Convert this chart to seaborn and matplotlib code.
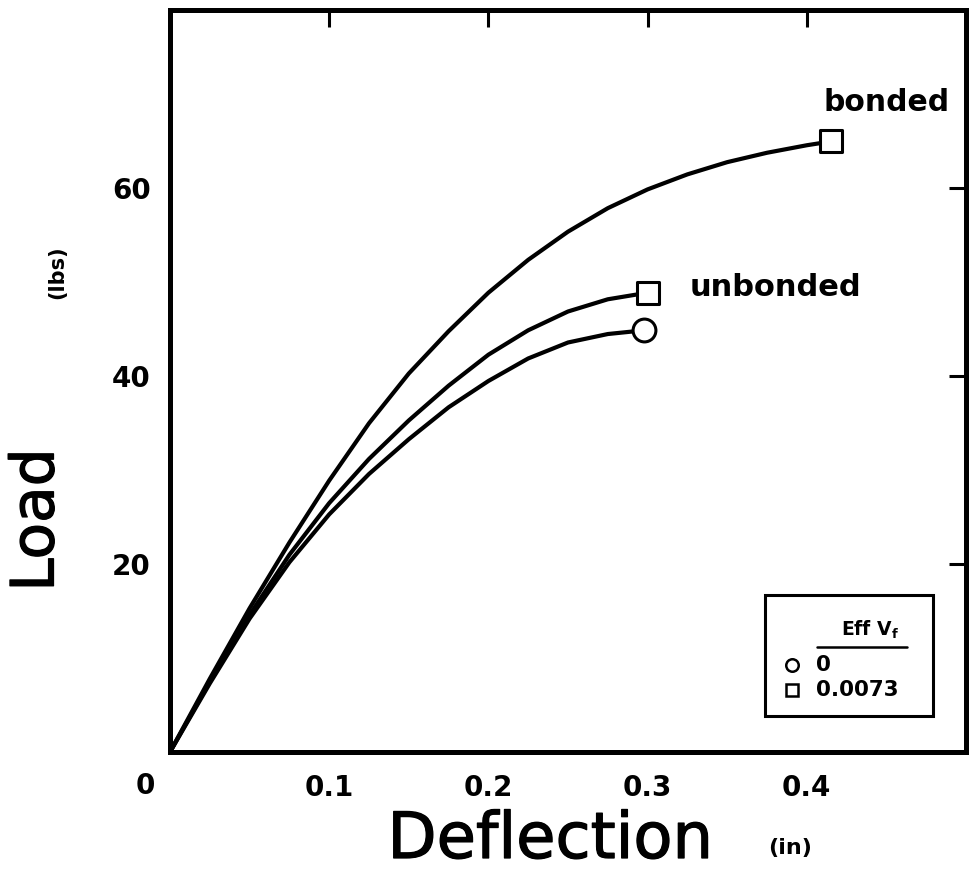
import matplotlib
matplotlib.use("Agg")
import matplotlib.pyplot as plt
import matplotlib.patheffects as pe
import pandas as pd
import seaborn as sns
from matplotlib.patches import Rectangle
from matplotlib.lines import Line2D

# Load-deflection curves (deflection in inches, load in lbs)
bonded_defl = [0.0, 0.025, 0.05, 0.075, 0.1, 0.125, 0.15, 0.175, 0.2, 0.225,
               0.25, 0.275, 0.3, 0.325, 0.35, 0.375, 0.4, 0.415]
bonded_load = [0.0, 7.8, 15.3, 22.3, 28.9, 35.0, 40.3, 44.8, 48.9, 52.4,
               55.4, 57.9, 59.9, 61.5, 62.8, 63.8, 64.6, 65.0]

unbonded_defl = [0.0, 0.025, 0.05, 0.075, 0.1, 0.125, 0.15, 0.175, 0.2, 0.225,
                 0.25, 0.275, 0.3]
unbonded_load = [0.0, 7.5, 14.6, 21.0, 26.5, 31.2, 35.3, 39.0, 42.3, 44.9,
                 46.9, 48.2, 48.9]

plain_defl = [0.0, 0.025, 0.05, 0.075, 0.1, 0.125, 0.15, 0.175, 0.2, 0.225,
              0.25, 0.275, 0.298]
plain_load = [0.0, 7.3, 14.2, 20.2, 25.3, 29.6, 33.3, 36.7, 39.5, 41.9,
              43.6, 44.5, 44.9]

x_ticks = [0.1, 0.2, 0.3, 0.4]
y_ticks = [20, 40, 60]
legend_title = "Eff V$_\\mathbf{f}$"
legend_labels = ["0", "0.0073"]

frames = []
for name, xs, ys in [("bonded", bonded_defl, bonded_load),
                     ("unbonded", unbonded_defl, unbonded_load),
                     ("plain", plain_defl, plain_load)]:
    frames.append(pd.DataFrame({"series": name, "defl": xs, "load": ys}))
df = pd.concat(frames, ignore_index=True)

ends = pd.DataFrame({
    "series": ["bonded", "unbonded", "plain"],
    "defl": [bonded_defl[-1], unbonded_defl[-1], plain_defl[-1]],
    "load": [bonded_load[-1], unbonded_load[-1], plain_load[-1]],
    "marker": ["s", "s", "o"],
})

sns.set_theme(style="white", rc={"text.color": "black",
                                 "axes.labelcolor": "black",
                                 "xtick.color": "black",
                                 "ytick.color": "black",
                                 "axes.edgecolor": "black"})
plt.rcParams["font.family"] = ["DejaVu Sans"]

fig = plt.figure(figsize=(9.7, 8.94), dpi=100)
W, H = 970, 894
L, R, T, B = 170, 966, 10, 752
ax = fig.add_axes([L / W, 1 - B / H, (R - L) / W, (B - T) / H])

sns.lineplot(data=df, x="defl", y="load", units="series", estimator=None,
             sort=False, color="black", linewidth=3.0, ax=ax, legend=False)
for ln in ax.get_lines():
    ln.set_solid_joinstyle("round")

for mk in ["s", "o"]:
    sub = ends[ends["marker"] == mk]
    sns.scatterplot(data=sub, x="defl", y="load", marker=mk, s=270,
                    facecolor="white", edgecolor="black", linewidth=2.2,
                    ax=ax, legend=False, zorder=5)

ax.set_xlim(0, 0.5)
ax.set_ylim(0, 79)
ax.set_xticks(x_ticks)
ax.set_xticklabels([f"{v:g}" for v in x_ticks])
ax.set_yticks(y_ticks)
ax.set_yticklabels([str(v) for v in y_ticks])
ax.set_xlabel("")
ax.set_ylabel("")

for sp in ax.spines.values():
    sp.set_linewidth(3.6)
    sp.set_color("black")
    sp.set_visible(True)

ax.tick_params(axis="both", which="major", direction="in", length=12,
               width=2.2, color="black", top=True, right=True,
               labelsize=20, labelcolor="black")
ax.tick_params(axis="x", pad=16)
ax.tick_params(axis="y", pad=14)
for lab in ax.get_xticklabels() + ax.get_yticklabels():
    lab.set_fontweight("bold")

# shared origin label
ax.annotate("0", xy=(0, 0), xytext=(-18, -24.5), textcoords="offset points",
            ha="center", va="center", fontsize=20, fontweight="bold")

# curve labels
ax.annotate("bonded", xy=(bonded_defl[-1], bonded_load[-1]), xytext=(40, 28),
            textcoords="offset points", ha="center", va="center",
            fontsize=21.5, fontweight="bold")
ax.annotate("unbonded", xy=(unbonded_defl[-1], unbonded_load[-1]),
            xytext=(92, 4), textcoords="offset points", ha="center",
            va="center", fontsize=22, fontweight="bold")

# axis titles (regular face, lightly thickened strokes)
thick = [pe.withStroke(linewidth=0.9, foreground="black")]
fig.text(37 / W, 1 - 520 / H, "Load", rotation=90, ha="center", va="center",
         fontsize=43, path_effects=thick)
fig.text(57 / W, 1 - 272 / H, "(lbs)", rotation=90, ha="center", va="center",
         fontsize=15, fontweight="bold")
fig.text(550 / W, 1 - 840 / H, "Deflection", ha="center", va="center",
         fontsize=46, path_effects=thick)
fig.text(790 / W, 1 - 848 / H, "(in)", ha="center", va="center",
         fontsize=16, fontweight="bold")


# legend box drawn in axes fractions
def ax_frac(px, py):
    return (px - L) / (R - L), (B - py) / (B - T)


x0, y0 = ax_frac(765, 716)
x1, y1 = ax_frac(933, 595)
ax.add_patch(Rectangle((x0, y0), x1 - x0, y1 - y0, transform=ax.transAxes,
                       facecolor="white", edgecolor="black", linewidth=2.2,
                       zorder=6))
tx, ty = ax_frac(870, 630)
ax.text(tx, ty, legend_title, transform=ax.transAxes, ha="center",
        va="center", fontsize=13.5, fontweight="bold", zorder=7)
ux0, uy = ax_frac(817, 647)
ux1, _ = ax_frac(907, 647)
ax.add_line(Line2D([ux0, ux1], [uy, uy], transform=ax.transAxes,
                   color="black", linewidth=1.8, zorder=7))
for (mk, label, py) in [("o", legend_labels[0], 665),
                        ("s", legend_labels[1], 690)]:
    mx, my = ax_frac(792, py)
    ax.add_line(Line2D([mx], [my], transform=ax.transAxes, marker=mk,
                       markersize=9, markerfacecolor="white",
                       markeredgecolor="black", markeredgewidth=1.8,
                       linestyle="none", zorder=7))
    lx, _ = ax_frac(816, py)
    ax.text(lx, my, label, transform=ax.transAxes, ha="left", va="center",
            fontsize=15.5, fontweight="bold", zorder=7)

fig.savefig("out.png", dpi=100, facecolor="white")
